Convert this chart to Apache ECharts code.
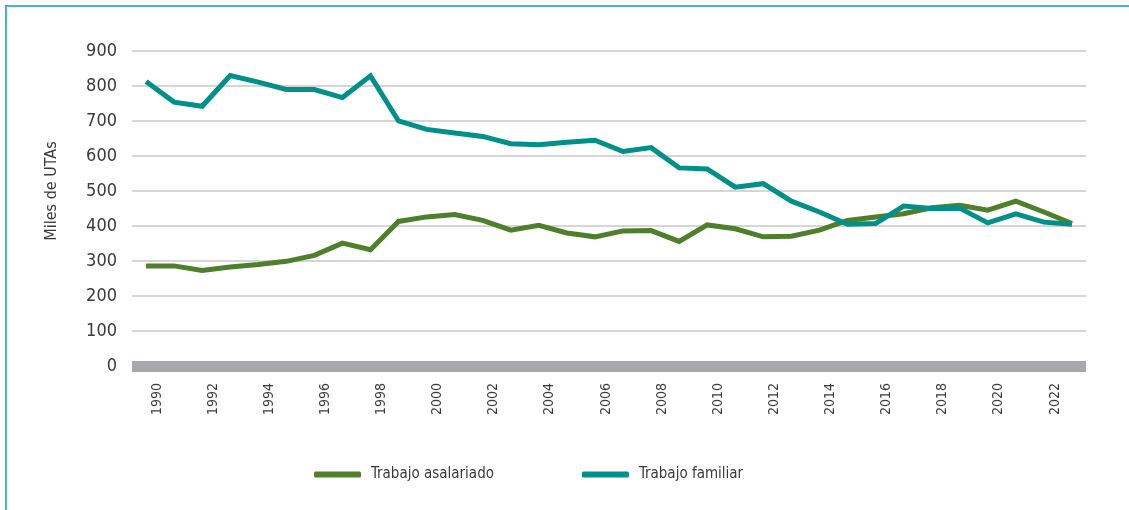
<!DOCTYPE html>
<html>
<head>
<meta charset="utf-8">
<script src="https://cdn.jsdelivr.net/npm/echarts@6/dist/echarts.min.js"></script>
<style>
  html, body { margin: 0; padding: 0; background: #fff; }
  #frame {
    position: absolute; left: 0; top: 0; width: 1129px; height: 510px;
    box-sizing: border-box;
  }
  #frame:before {
    content: ''; position: absolute; left: 5px; top: 5px; right: 0; bottom: 0;
    border-top: 2px solid #4fb0c6; border-left: 2px solid #4fb0c6;
  }
  #chart { position: absolute; left: 0; top: 0; width: 1129px; height: 510px; }
</style>
</head>
<body>
<div id="frame"><div id="chart"></div></div>
<script>
const years = ['1990', '1991', '1992', '1993', '1994', '1995', '1996', '1997', '1998', '1999',
  '2000', '2001', '2002', '2003', '2004', '2005', '2006', '2007', '2008', '2009',
  '2010', '2011', '2012', '2013', '2014', '2015', '2016', '2017', '2018', '2019',
  '2020', '2021', '2022', '2023']
const asalariado = [286, 286, 273, 283, 290, 299, 316, 351, 332, 413,
  426, 433, 416, 388, 402, 380, 369, 386, 387, 356,
  403, 392, 369, 371, 388, 416, 426, 435, 452, 459,
  445, 471, 440, 407]
const familiar = [813, 754, 742, 830, 811, 790, 790, 767, 829, 700,
  676, 666, 656, 635, 632, 639, 645, 613, 624, 566,
  563, 511, 521, 471, 440, 405, 407, 457, 450, 451,
  409, 435, 411, 405]
const seriesNames = ['Trabajo asalariado', 'Trabajo familiar']
const colors = ['#4e7f2b', '#00908a']

const font = '"DejaVu Sans Condensed", "Liberation Sans Narrow", sans-serif'
const textColor = '#3a3a3a'

const myChart = echarts.init(document.getElementById('chart'))
const option = {
  animation: false,
  color: colors,
  grid: { left: 132, right: 43, top: 51, bottom: 144 },
  legend: {
    left: 309,
    top: 462,
    itemGap: 88,
    itemWidth: 47,
    itemHeight: 6,
    icon: 'roundRect',
    textStyle: { fontFamily: font, fontSize: 15, color: textColor, padding: [0, 0, 0, 5] },
    data: seriesNames
  },
  xAxis: {
    type: 'category',
    data: years,
    boundaryGap: true,
    axisLine: { lineStyle: { color: '#a7a8ab', width: 11, cap: 'butt' } },
    axisTick: { show: false },
    axisLabel: {
      interval: 1,
      rotate: 90,
      margin: 17,
      verticalAlign: 'top',
      padding: [4, 0, 0, 0],
      fontFamily: font,
      fontSize: 14,
      color: textColor
    }
  },
  yAxis: {
    type: 'value',
    min: 0,
    max: 900,
    interval: 100,
    name: 'Miles de UTAs',
    nameLocation: 'middle',
    nameGap: 72,
    nameTextStyle: { fontFamily: font, fontSize: 16, color: textColor, padding: [0, 0, 0, 35] },
    axisLine: { show: false },
    axisTick: { show: false },
    axisLabel: { margin: 15, fontFamily: font, fontSize: 18, color: textColor },
    splitLine: { lineStyle: { color: '#c8c8c8', width: 1.5 } }
  },
  series: [
    {
      name: seriesNames[0],
      type: 'line',
      data: asalariado,
      showSymbol: false,
      lineStyle: { width: 5, cap: 'butt', join: 'miter' }
    },
    {
      name: seriesNames[1],
      type: 'line',
      data: familiar,
      showSymbol: false,
      lineStyle: { width: 5, cap: 'butt', join: 'miter' }
    }
  ]
}
myChart.setOption(option)
</script>
</body>
</html>
